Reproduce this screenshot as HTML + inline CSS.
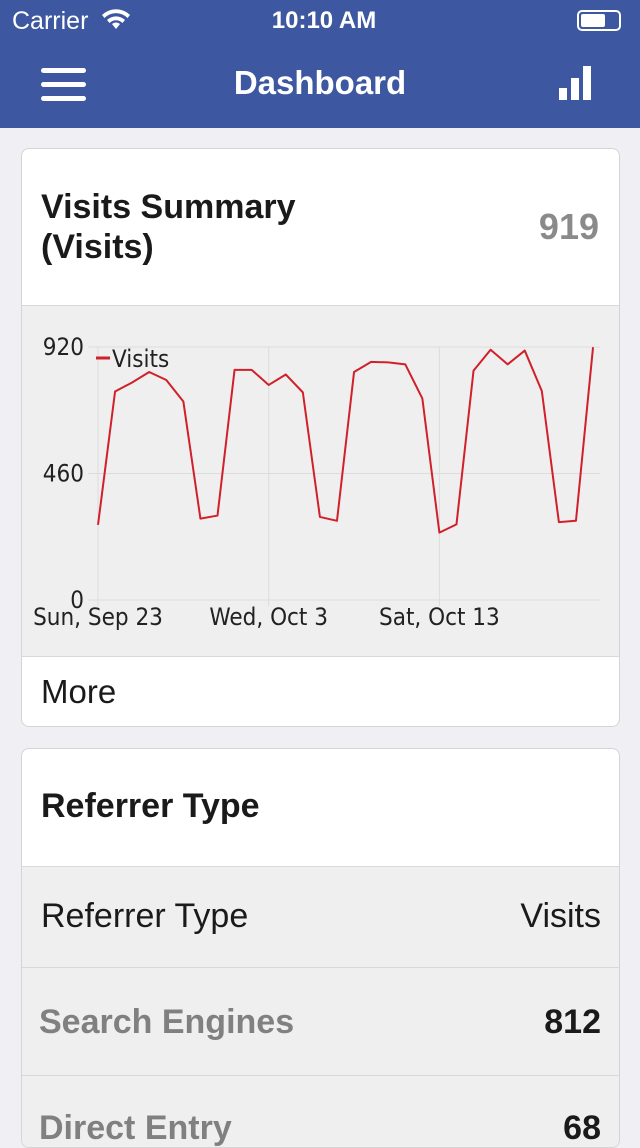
<!DOCTYPE html>
<html><head><meta charset="utf-8"><style>
*{box-sizing:border-box;margin:0;padding:0}
body{width:640px;height:1136px;overflow:hidden;background:#efeff4;font-family:"Liberation Sans",sans-serif;position:relative;color:#1a1a1a}
.abs{position:absolute}
.card{position:absolute;left:21px;width:599px;border:1px solid #d4d4d4;border-radius:8px;overflow:hidden;background:#fff}
</style></head><body>
<div class="abs" style="left:0;top:0;width:640px;height:128px;background:#3d58a0;color:#fff">
  <div class="abs" style="left:12px;top:7px;font-size:25px">Carrier</div>
  <svg class="abs" style="left:100px;top:8px" width="32" height="22" viewBox="0 0 32 22"><path d="M16 21l-4-5a6 6 0 0 1 8 0z M7 12a13 13 0 0 1 18 0l-2.5 3a9 9 0 0 0-13 0z M2 7a20 20 0 0 1 28 0l-2.5 3a16 16 0 0 0-23 0z" fill="#fff"/></svg>
  <div class="abs" style="left:0;width:648px;top:7px;text-align:center;font-size:24px;font-weight:bold">10:10 AM</div>
  <div class="abs" style="left:577px;top:10px;width:44px;height:21px;border:2px solid #fff;border-radius:5px;padding:2px"><div style="width:24px;height:13px;background:#fff;border-radius:2px"></div></div>
  <div class="abs" style="left:41px;top:68px;width:45px;height:33px">
    <div class="abs" style="top:0;width:45px;height:5px;background:#fff;border-radius:3px"></div>
    <div class="abs" style="top:14px;width:45px;height:5px;background:#fff;border-radius:3px"></div>
    <div class="abs" style="top:28px;width:45px;height:5px;background:#fff;border-radius:3px"></div>
  </div>
  <div class="abs" style="left:0;width:640px;top:64px;text-align:center;font-size:33px;font-weight:bold">Dashboard</div>
  <svg class="abs" style="left:559px;top:66px" width="33" height="34"><rect x="0" y="22" width="8" height="12" fill="#fff"/><rect x="12" y="12" width="8" height="22" fill="#fff"/><rect x="24" y="0" width="8" height="34" fill="#fff"/></svg>
</div>

<div class="card" style="top:148px;height:579px">
  <div class="abs" style="left:19px;top:38px;font-size:34px;font-weight:bold;line-height:40px">Visits Summary<br>(Visits)</div>
  <div class="abs" style="right:20px;top:57px;font-size:36px;font-weight:bold;color:#8a8a8a">919</div>
  <div class="abs" style="left:0;top:156px;width:599px;height:352px;background:#efefef;border-top:1px solid #d8d8d8;border-bottom:1px solid #d8d8d8">
    <svg id="chart" width="599" height="352" style="position:absolute;left:-1px;top:-1px"></svg>
  </div>
  <div class="abs" style="left:19px;top:524px;font-size:33px">More</div>
</div>

<div class="card" style="top:748px;height:400px">
  <div class="abs" style="left:19px;top:38px;font-size:34px;font-weight:bold">Referrer Type</div>
  <div class="abs" style="left:0;top:117px;width:599px;height:102px;background:#efefef;border-top:1px solid #d8d8d8;border-bottom:1px solid #d8d8d8">
    <div class="abs" style="left:19px;top:30px;font-size:34px">Referrer Type</div>
    <div class="abs" style="right:20px;top:30px;font-size:34px">Visits</div>
  </div>
  <div class="abs" style="left:0;top:219px;width:599px;height:108px;background:#efefef;border-bottom:1px solid #d8d8d8">
    <div class="abs" style="left:17px;top:35px;font-size:34px;font-weight:bold;color:#808080">Search Engines</div>
    <div class="abs" style="right:20px;top:35px;font-size:34px;font-weight:bold">812</div>
  </div>
  <div class="abs" style="left:0;top:327px;width:599px;height:80px;background:#efefef">
    <div class="abs" style="left:17px;top:33px;font-size:34px;font-weight:bold;color:#808080">Direct Entry</div>
    <div class="abs" style="right:20px;top:33px;font-size:34px;font-weight:bold">68</div>
  </div>
</div>

<script>
const visits=[273,758,791,829,800,722,296,307,837,837,782,820,755,302,288,829,866,864,857,733,245,275,834,910,857,907,760,283,288,919];
const yTicks=[0,460,920];
const xTickDays=[0,10,20];
const xTickLabels=["Sun, Sep 23","Wed, Oct 3","Sat, Oct 13"];
const NS="http://www.w3.org/2000/svg";
const svg=document.getElementById('chart');
const x0=98-21, dx=17.07, yBase=600-305, yTop=347-305;
const xs=d=>x0+d*dx;
const ys=v=>yBase-(v/920)*(yBase-yTop);
const FF='DejaVu Sans Condensed, DejaVu Sans, sans-serif';
function mk(t,a){const e=document.createElementNS(NS,t);for(const k in a)e.setAttribute(k,a[k]);svg.appendChild(e);return e;}
yTicks.forEach(v=>{
  const l=mk('line',{x1:x0-10,x2:579,y1:ys(v),y2:ys(v),stroke:'#dcdcdc','stroke-width':1});
  
  
  const t=mk('text',{x:x0-14,y:ys(v)+8,'text-anchor':'end','font-size':24,fill:'#222','font-family':FF});
  t.textContent=v;
  
  
});
xTickDays.forEach((d,i)=>{
  const l=mk('line',{x1:xs(d),x2:xs(d),y1:yTop,y2:yBase+6,stroke:'#dcdcdc','stroke-width':1});
  
  
  const t=mk('text',{x:xs(d),y:yBase+25,'text-anchor':'middle','font-size':24,fill:'#222','font-family':FF});
  t.textContent=xTickLabels[i];
  
  
});
const p=mk('polyline',{points:visits.map((v,i)=>xs(i)+','+ys(v)).join(' '),fill:'none',stroke:'#d0202a','stroke-width':2,'stroke-linejoin':'round'});


const ll=mk('line',{x1:75,x2:89,y1:53,y2:53,stroke:'#d0202a','stroke-width':3});


const lt=mk('text',{x:91,y:62,'font-size':24,fill:'#222','font-family':FF});
lt.textContent='Visits';


</script>
</body></html>
